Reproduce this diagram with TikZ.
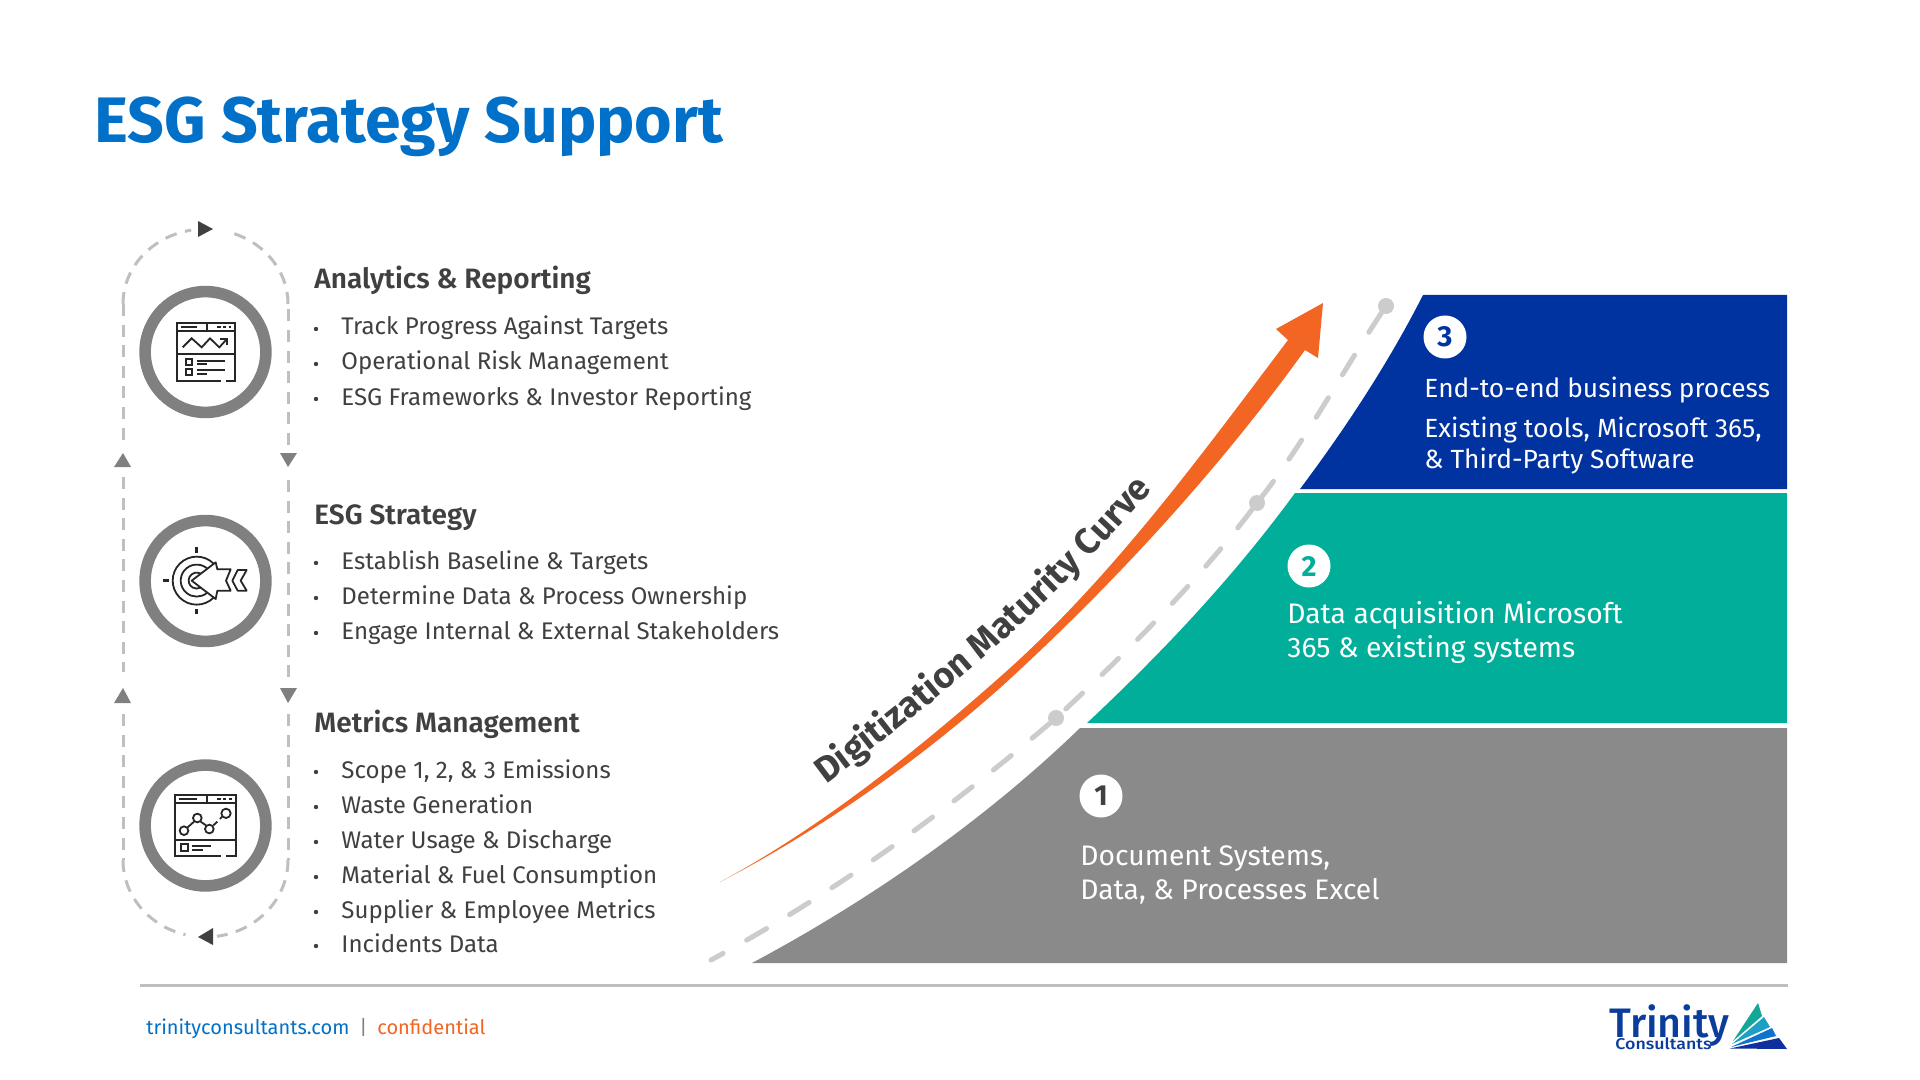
\documentclass[tikz,border=0pt]{standalone}
\usepackage{fontspec}
\usepackage{graphicx}
\usepackage{xcolor}
\usepackage{tikz}
\usetikzlibrary{calc,decorations.text}
\setmainfont{Fira Sans}
\newfontfamily\semifont{Fira Sans SemiBold}
\newfontfamily\midfont{Fira Sans Medium}
\definecolor{titleblue}{HTML}{0070C8}
\definecolor{bandblue}{HTML}{0033A0}
\definecolor{bandteal}{HTML}{00AE9A}
\definecolor{bandgray}{HTML}{8A8A8A}
\definecolor{curveorange}{HTML}{F26522}
\definecolor{inkdark}{HTML}{404040}
\definecolor{logoblue}{HTML}{0B3D9C}
\definecolor{logoteal}{HTML}{12A899}
\definecolor{logocyan}{HTML}{1E9FC4}
\definecolor{logomid}{HTML}{1273CE}
\definecolor{logodeep}{HTML}{0F2F9C}

\begin{document}
\begin{tikzpicture}[x=0.5pt, y=-0.5pt, every node/.style={inner sep=0pt},
    heading/.style={anchor=base west, inkdark, font=\fontsize{14}{16}\selectfont\semifont},
    item/.style={anchor=base west, inkdark, font=\fontsize{12.03}{15}\selectfont},
    dotmark/.style={circle, fill=inkdark, minimum size=2.2pt},
    bandtext/.style={anchor=base west, white, font=\fontsize{14.13}{16}\selectfont},
    bluetext/.style={bandtext, font=\fontsize{13.15}{16}\selectfont},
    numdisc/.style={circle, fill=white, minimum size=21.5pt, font=\fontsize{14.5}{16}\selectfont\bfseries},
    ring/.style={circle, draw=black!50, line width=5.8pt, fill=white, minimum size=60.4pt},
    loopline/.style={draw=black!25, line width=1.5pt, dash pattern=on 6pt off 4.3pt},
    loopgray/.style={fill=black!50},
    icon/.style={draw=black!85, line width=0.9pt},
    roadline/.style={draw=black!20, line width=2.5pt, line cap=round, dash pattern=on 11.5pt off 13.5pt},
    roaddot/.style={circle, fill=black!20, minimum size=8pt},
    foot/.style={anchor=base west, font=\fontsize{10}{12}\selectfont}]
  \useasboundingbox (0,0) rectangle (1920,1080);
  \fill[white] (0,0) rectangle (1920,1080);
  % title
  \node[anchor=base west, titleblue, font=\fontsize{32.15}{36}\selectfont\bfseries] (title) at (94,143) {ESG Strategy Support};

  % stair bands
  \fill[bandgray] (752,963) .. controls (870,900) and (985,820) .. (1080,728) -- (1787,728) -- (1787,963) -- cycle;
  \fill[bandteal] (1087,723) .. controls (1165,650) and (1235,575) .. (1295,493) -- (1787,493) -- (1787,723) -- cycle;
  \fill[bandblue] (1300,489) .. controls (1348,425) and (1390,360) .. (1423,295) -- (1787,295) -- (1787,489) -- cycle;

  % dashed road
  \coordinate (road0) at (711,960);
  \node[roaddot] (dot1) at (1056,718) {};
  \node[roaddot] (dot2) at (1257,503) {};
  \node[roaddot] (dot3) at (1386,306) {};
  \draw[roadline] (dot1) .. controls (948,810) and (835,893) .. (road0);
  \draw[roadline] (dot2) .. controls (1197,582) and (1127,652) .. (dot1);
  \draw[roadline] (dot3) .. controls (1343,371) and (1305,441) .. (dot2);

  % orange curve
  \fill[curveorange] (720,882) .. controls (820,828) and (914,753) .. (1000,677)
    .. controls (1111,579) and (1199,458) .. (1288,340)
    -- (1276,329) -- (1323,303) -- (1318,358) -- (1305,350)
    .. controls (1218,471) and (1111,587) .. (1000,688)
    .. controls (914,764) and (820,830) .. cycle;
  \path[decorate, decoration={text along path, text align=center,
      text={|\fontsize{18}{20}\selectfont\bfseries\color{inkdark}|Digitization Maturity Curve}}]
    (829,782) .. controls (944,696) and (1056,601) .. (1150,492);

  % band text
  \node[numdisc, text=bandblue] (num3) at (1445,337) {3};
  \node[bluetext] (t3a) at (1424,397) {End-to-end business process};
  \node[bluetext] (t3b) at (1424,437) {Existing tools, Microsoft 365,};
  \node[bluetext] (t3c) at (1424,468) {\& Third-Party Software};
  \node[numdisc, text=bandteal] (num2) at (1309,566) {2};
  \node[bandtext] (t2a) at (1287,623) {Data acquisition Microsoft};
  \node[bandtext] (t2b) at (1287,657) {365 \& existing systems};
  \node[numdisc, text=inkdark] (num1) at (1101,796) {1};
  \node[bandtext] (t1a) at (1080,865) {Document Systems,};
  \node[bandtext] (t1b) at (1080,899) {Data, \& Processes Excel};

  % loop around the rings
  \coordinate (topl) at (123,304);
  \coordinate (topr) at (288,304);
  \coordinate (botl) at (123,860);
  \coordinate (botr) at (288,860);
  \draw[loopline] (topl) -- (123,440);
  \draw[loopline] (123,477) -- (123,672);
  \draw[loopline] (123,714) -- (botl);
  \draw[loopline] (288,445) -- (topr);
  \draw[loopline] (288,480) -- (288,678);
  \draw[loopline] (288,714) -- (botr);
  \draw[loopline] (topl) arc[start angle=180, end angle=260, x radius=82.5, y radius=75];
  \draw[loopline] (topr) arc[start angle=0, end angle=-74, x radius=82.5, y radius=75];
  \draw[loopline] (botl) arc[start angle=180, end angle=104, x radius=82.5, y radius=77];
  \draw[loopline] (botr) arc[start angle=0, end angle=82, x radius=82.5, y radius=77];
  \fill[inkdark] (198,221) -- (213,229) -- (198,237) -- cycle;
  \fill[inkdark] (213,928) -- (198,937) -- (213,945) -- cycle;
  \fill[loopgray] (114,467) -- (123,453) -- (131,467) -- cycle;
  \fill[loopgray] (114,703) -- (123,688) -- (131,703) -- cycle;
  \fill[loopgray] (280,453) -- (288,467) -- (297,453) -- cycle;
  \fill[loopgray] (280,688) -- (288,703) -- (297,688) -- cycle;

  % rings
  \node[ring] (ring1) at (205.5,352) {};
  \node[ring] (ring2) at (205.5,581) {};
  \node[ring] (ring3) at (205.5,825.5) {};

  % icon in the top ring
  \begin{scope}[shift={(100,210)}, x=0.16667pt, y=-0.16667pt]
    \draw[icon] (362,514) -- (230,514) -- (230,338) -- (406,338) -- (406,514) -- (378,514);
    \draw[icon] (230,362) -- (406,362) (322,338) -- (322,362) (242,350) -- (290,350);
    \draw[icon, dash pattern=on 1.6pt off 1.2pt] (352,350) -- (394,350);
    \draw[icon] (230,432) -- (406,432);
    \draw[icon] (248,412) -- (275,385) -- (305,412) -- (330,385) -- (358,412) -- (380,388);
    \draw[icon] (360,386) -- (380,386) -- (380,405);
    \draw[icon] (258,446) rectangle (276,464) (258,476) rectangle (276,494);
    \draw[icon] (290,453) -- (375,453) (290,462) -- (320,462) (290,480) -- (375,480) (290,491) -- (320,491);
  \end{scope}
  % icon in the middle ring
  \begin{scope}[shift={(100,470)}, x=0.16667pt, y=-0.16667pt]
    \draw[icon] (341,281) arc[start angle=-45, end angle=-315, radius=72];
    \draw[icon] (321,295) arc[start angle=-50, end angle=-310, radius=48];
    \draw[icon] (302,311) arc[start angle=-60, end angle=-300, radius=24];
    \draw[icon, fill=white, line join=round] (275,332) -- (347,277) -- (352,298) -- (392,298) -- (378,332) -- (392,362) -- (352,362) -- (347,387) -- cycle;
    \draw[icon, line join=round] (413,300) -- (440,300) -- (422,332) -- (440,362) -- (413,362) -- (397,332) -- cycle;
    \draw[icon, line width=1.2pt] (290,232) -- (290,248) (290,418) -- (290,432) (190,332) -- (207,332);
  \end{scope}
  % icon in the bottom ring
  \begin{scope}[shift={(100,720)}, x=0.16667pt, y=-0.16667pt]
    \draw[icon] (362,407) -- (225,407) -- (225,225) -- (408,225) -- (408,407) -- (378,407);
    \draw[icon] (225,248) -- (408,248) (320,225) -- (320,248) (238,237) -- (290,237);
    \draw[icon, dash pattern=on 1.6pt off 1.2pt] (352,237) -- (396,237);
    \draw[icon] (225,360) -- (408,360);
    \draw[icon] (252,332) circle[radius=13] (292,294) circle[radius=13] (328,327) circle[radius=13] (378,280) circle[radius=14];
    \draw[icon] (263,322) -- (282,305) (302,305) -- (318,316) (340,316) -- (352,305) (360,297) -- (366,290);
    \draw[icon, line width=1.1pt] (242,372) rectangle (264,393);
    \draw[icon] (275,378) -- (332,378) (275,390) -- (310,390);
  \end{scope}

  % section text
  \node[heading] (h1) at (314,289) {Analytics \& Reporting};
  \foreach \y/\txt in {335/{Track Progress Against Targets}, 370/{Operational Risk Management}, 405/{ESG Frameworks \& Investor Reporting}}
    {\node[dotmark] (d\y) at (316,\y-6) {}; \node[item] (i\y) at (341,\y) {\txt};}
  \node[heading] (h2) at (314,524) {ESG Strategy};
  \foreach \y/\txt in {569/{Establish Baseline \& Targets}, 604/{Determine Data \& Process Ownership}, 639/{Engage Internal \& External Stakeholders}}
    {\node[dotmark] (d\y) at (316,\y-6) {}; \node[item] (i\y) at (341,\y) {\txt};}
  \node[heading] (h3) at (314,732) {Metrics Management};
  \foreach \y/\txt in {778/{Scope 1, 2, \& 3 Emissions}, 813/{Waste Generation}, 848/{Water Usage \& Discharge}, 883/{Material \& Fuel Consumption}, 918/{Supplier \& Employee Metrics}, 952/{Incidents Data}}
    {\node[dotmark] (d\y) at (316,\y-6) {}; \node[item] (i\y) at (341,\y) {\txt};}

  % footer
  \draw[black!25, line width=1.5pt] (140,985) -- (1788,985);
  \node[foot, titleblue] (site) at (146,1034) {trinityconsultants.com};
  \node[foot, black!50] (sep) at (359,1034) {|};
  \node[foot, curveorange] (conf) at (377,1034) {confidential};

  % logo
  \node[anchor=base west, logoblue, font=\fontsize{20.6}{22}\selectfont\midfont] (logoname) at (1609,1037) {Trinity};
  \node[anchor=base west, logoblue, font=\fontsize{7.8}{10}\selectfont\midfont] (logosub) at (1615,1049) {\scalebox{1.14}[1]{Consultants}};
  \fill[logoteal] (1758,1003) -- (1762,1016) -- (1733,1041) -- cycle;
  \fill[logocyan] (1764,1017) -- (1770,1027) -- (1732,1044) -- cycle;
  \fill[logomid] (1772,1028) -- (1776,1036) -- (1731,1047) -- cycle;
  \fill[logodeep] (1779,1038) -- (1787,1049) -- (1730,1048.5) -- cycle;
\end{tikzpicture}
\end{document}
